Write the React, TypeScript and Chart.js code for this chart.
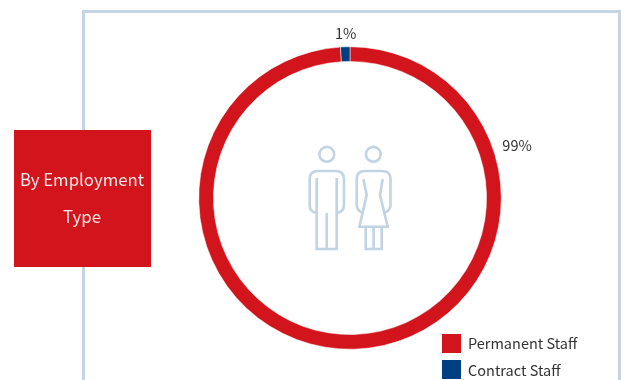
import React, { useEffect, useRef } from "react";
import { Chart, registerables } from "chart.js";

Chart.register(...registerables);

const categories = ["Permanent Staff", "Contract Staff"];
const shares = [99, 1];
const sliceColors = ["#d2151c", "#004080"];
const heading = ["By Employment", "Type"];

const FONT = '"Noto Sans CJK SC", "Noto Sans", sans-serif';
const FRAME = "#c5d5e4";
const ICON = "#c2d3e3";

// Percent labels sit just outside the ring; the long slice's label is pulled up to its upper right.
const percentLabels = {
  id: "percentLabels",
  afterDatasetsDraw(chart: any) {
    const { ctx } = chart;
    const meta = chart.getDatasetMeta(0);
    const placements = [
      { angle: 72.7, distance: 175 },
      { angle: -1.5, distance: 165 },
    ];
    ctx.save();
    ctx.font = `14.5px ${FONT}`;
    ctx.fillStyle = "#333333";
    ctx.textAlign = "center";
    ctx.textBaseline = "middle";
    meta.data.forEach((arc: any, i: number) => {
      const rad = (placements[i].angle * Math.PI) / 180;
      const x = arc.x + Math.sin(rad) * placements[i].distance;
      const y = arc.y - Math.cos(rad) * placements[i].distance;
      ctx.fillText(`${shares[i]}%`, x, y);
    });
    ctx.restore();
  },
};

function PeopleIcon() {
  return (
    <svg
      width={621}
      height={380}
      style={{ position: "absolute", left: 0, top: 0 }}
      fill="none"
      stroke={ICON}
      strokeWidth={2.6}
      strokeLinejoin="miter"
    >
      <circle cx={326.8} cy={154.3} r={7.4} />
      <path d="M316.7 178 V249 H336.7 V178" />
      <path d="M326.7 213 V249" />
      <path d="M316.7 213 Q309.7 212 309.7 205 V179 Q309.7 171 318 171 H335.5 Q344 171 344 179 V205 Q344 212 336.7 213" />
      <circle cx={373.3} cy={154.3} r={7.4} />
      <path d="M363.3 179 L366.7 195 L359.4 226.7 H387.7 L380 195 L382.7 179" />
      <path d="M363.5 213 Q356.7 211 356.7 205 V179 Q356.7 171 365 171 H382 Q390.5 171 390.5 179 V205 Q390.5 211 383.5 213" />
      <path d="M365.7 226.7 V249 H381.7 V226.7 M373.6 226.7 V249" />
    </svg>
  );
}

export default function App() {
  const canvasRef = useRef<HTMLCanvasElement>(null);

  useEffect(() => {
    const chart = new Chart(canvasRef.current!, {
      type: "doughnut",
      data: {
        labels: categories,
        datasets: [
          {
            data: shares,
            backgroundColor: sliceColors,
            borderColor: "#ffffff",
            borderWidth: 0.5,
          },
        ],
      },
      options: {
        animation: false,
        responsive: false,
        cutout: "90.3%",
        layout: { padding: { left: 198.5, right: 119.5, top: 46.5, bottom: 30.5 } },
        plugins: { legend: { display: false }, tooltip: { enabled: false } },
      },
      plugins: [percentLabels],
    });
    return () => chart.destroy();
  }, []);

  return (
    <div
      style={{
        position: "fixed",
        left: 0,
        top: 0,
        width: 621,
        height: 380,
        overflow: "hidden",
        background: "#ffffff",
        fontFamily: FONT,
      }}
    >
      <div
        style={{
          position: "absolute",
          left: 82,
          top: 10,
          width: 533,
          height: 400,
          border: `3px solid ${FRAME}`,
        }}
      />
      <canvas
        ref={canvasRef}
        width={621}
        height={380}
        style={{ position: "absolute", left: 0, top: 0 }}
      />
      <PeopleIcon />
      <div
        style={{
          position: "absolute",
          left: 14,
          top: 130,
          width: 136,
          height: 137,
          background: "#d2151c",
          color: "#fbe8e8",
          fontSize: 16.8,
          textAlign: "center",
          boxShadow: "1px 0 0 #d2151c",
        }}
      >
        {heading.map((line, i) => (
          <div
            key={line}
            style={{
              position: "absolute",
              left: 0,
              right: 0,
              top: 49 + i * 37,
              lineHeight: "0px",
              whiteSpace: "nowrap",
            }}
          >
            {line}
          </div>
        ))}
      </div>
      {categories.map((name, i) => (
        <div key={name}>
          <div
            style={{
              position: "absolute",
              left: 442,
              top: 334 + i * 26,
              width: 19,
              height: 19,
              background: sliceColors[i],
            }}
          />
          <div
            style={{
              position: "absolute",
              left: 468,
              top: 343 + i * 26.5,
              lineHeight: "0px",
              fontSize: 14.5,
              color: "#333333",
              whiteSpace: "nowrap",
            }}
          >
            {name}
          </div>
        </div>
      ))}
    </div>
  );
}
